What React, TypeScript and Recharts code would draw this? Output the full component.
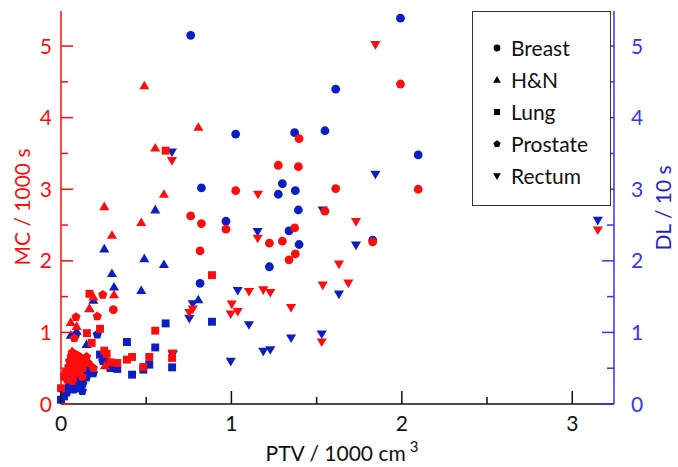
import React from "react";
import { ScatterChart, Scatter, XAxis, YAxis, Legend } from "recharts";

const FONT = "Lato, 'Open Sans', sans-serif";
const RED = "#ff0d0d";
const BLUE = "#0a1ec4";
const BLUE_AXIS = "#3535f5";

// PTV / 1000 cm3, MC / 1000 s, DL / 10 s  (null = not readable)
const breastPtv = [0.307, 0.761, 0.816, 0.824, 0.968, 1.025, 1.223, 1.275, 1.299, 1.338, 1.371, 1.375, 1.393, 1.397, 1.549, 1.612, 1.829, 1.992, 2.096];
const breastMc = [1.317, 2.628, 2.14, 2.52, 2.442, 2.98, 2.247, 3.335, 2.275, 2.014, 2.46, 2.098, 3.316, 3.706, 2.693, 3.01, 2.265, 4.47, 3.0];
const breastDl = [null, 5.15, 1.684, 3.018, 2.554, 3.771, 1.917, 2.93, 3.078, 2.418, 3.79, 2.98, 2.71, 2.228, 3.817, 4.4, 2.29, 5.39, 3.48];

const hnPtv = [0.057, 0.065, 0.092, 0.15, 0.167, 0.19, 0.254, 0.258, 0.299, 0.311, 0.471, 0.489, 0.553, 0.604, 0.806];
const hnMc = [1.14, 0.736, 1.084, null, 1.333, 1.496, 2.757, 0.536, 2.358, 1.526, 2.534, 4.445, 3.576, 2.93, 3.865];
const hnDl = [0.96, 0.7, 1.016, 0.83, 1.33, 1.449, 2.167, null, 1.823, 1.633, 1.586, 2.03, 2.711, 1.949, 1.456];

const lungPtv = [0.0, 0.018, 0.152, 0.167, 0.18, 0.229, 0.254, 0.268, 0.29, 0.33, 0.387, 0.417, 0.483, 0.518, 0.553, 0.614, 0.652, 0.886];
const lungMc = [0.22, 0.38, 0.99, 1.54, 0.853, 1.05, 0.745, 0.7, 0.582, 0.573, 0.62, 0.657, 0.517, 0.657, 1.024, 3.539, 0.643, 1.8];
const lungDl = [0.06, 0.107, 0.45, 0.517, 0.433, 0.69, 0.6, 0.582, 0.503, 0.49, 0.866, 0.41, 0.48, 0.55, 0.79, 1.126, 0.512, 1.149];

const prostatePtv = [0.088, 0.213, 0.245, 0.078, 0.03, 0.045, 0.05, 0.055, 0.06, 0.062, 0.066, 0.07, 0.072, 0.075, 0.078, 0.08, 0.083, 0.085, 0.088, 0.09, 0.094, 0.098, 0.1, 0.105, 0.11, 0.115, 0.12, 0.128, 0.16, 0.19, 0.035, 0.14, 0.15, 0.125, 0.068];
const prostateMc = [1.215, 1.224, 1.526, 0.92, 0.45, 0.52, 0.6, 0.45, 0.66, 0.55, 0.72, 0.48, 0.62, 0.4, 0.7, 0.56, 0.5, 0.64, 0.58, 0.44, 0.68, 0.52, 0.6, 0.47, 0.66, 0.55, 0.62, 0.5, 0.57, 0.5, 0.34, 0.6, 0.66, 0.38, 0.32];
const prostateDl = [0.97, 0.97, 0.6, 0.55, 0.2, 0.32, 0.25, 0.4, 0.3, 0.22, 0.36, 0.28, 0.45, 0.2, 0.33, 0.26, 0.38, 0.24, 0.3, 0.42, 0.27, 0.35, 0.22, 0.3, 0.4, 0.25, 0.33, 0.28, 0.48, 0.43, 0.16, 0.5, 0.37, 0.18, 0.52];

const rectumPtv = [0.651, 0.655, 0.753, 0.773, 0.996, 1.002, 1.037, 1.103, 1.154, 1.156, 1.187, 1.228, 1.35, 1.53, 1.536, 1.631, 1.686, 1.731, 1.845, 3.15];
const rectumMc = [3.4, 0.713, 1.279, 1.326, 1.257, 1.396, 1.293, 1.572, 2.316, 2.93, 1.595, 1.558, 1.349, 0.866, 1.661, 1.954, 1.689, 2.548, 5.02, 2.43];
const rectumDl = [3.52, 0.69, 1.195, 1.4, 0.596, null, 1.586, 1.107, 2.409, null, 0.735, 0.759, 0.922, 0.978, 2.71, 1.535, null, 2.22, 3.21, 2.565];

const groups = [
  { name: "Breast", kind: "circle", ptv: breastPtv, mc: breastMc, dl: breastDl },
  { name: "H&N", kind: "up", ptv: hnPtv, mc: hnMc, dl: hnDl },
  { name: "Lung", kind: "square", ptv: lungPtv, mc: lungMc, dl: lungDl },
  { name: "Prostate", kind: "pentagon", ptv: prostatePtv, mc: prostateMc, dl: prostateDl },
  { name: "Rectum", kind: "down", ptv: rectumPtv, mc: rectumMc, dl: rectumDl },
];

const xTicks = [0, 0.5, 1, 1.5, 2, 2.5, 3];
const yTicks = [0, 0.5, 1, 1.5, 2, 2.5, 3, 3.5, 4, 4.5, 5];

const toPoints = (ptv: number[], vals: (number | null)[]) =>
  ptv.map((x, i) => ({ x, y: vals[i] })).filter((p) => p.y != null);

function Marker({ cx, cy, kind, color, r = 4.4 }: any) {
  if (cx == null || cy == null) return null;
  if (kind === "circle") return <circle cx={cx} cy={cy} r={r} fill={color} />;
  if (kind === "square")
    return <rect x={cx - r * 0.9} y={cy - r * 0.9} width={r * 1.8} height={r * 1.8} fill={color} />;
  if (kind === "up")
    return <polygon points={`${cx},${cy - r * 1.15} ${cx + r * 1.15},${cy + r * 0.8} ${cx - r * 1.15},${cy + r * 0.8}`} fill={color} />;
  if (kind === "down")
    return <polygon points={`${cx},${cy + r * 1.15} ${cx + r * 1.15},${cy - r * 0.8} ${cx - r * 1.15},${cy - r * 0.8}`} fill={color} />;
  const pts = [0, 1, 2, 3, 4]
    .map((k) => {
      const a = -Math.PI / 2 + (k * 2 * Math.PI) / 5;
      return `${cx + r * 1.1 * Math.cos(a)},${cy + r * 1.1 * Math.sin(a)}`;
    })
    .join(" ");
  return <polygon points={pts} fill={color} />;
}

const BottomTick = ({ x, y, payload }: any) => {
  const major = Number.isInteger(payload.value);
  return (
    <g>
      <line x1={x} x2={x} y1={y} y2={y - (major ? 13 : 7)} stroke="#111" strokeWidth={1.5} />
      {major && (
        <text x={x} y={y + 27} textAnchor="middle" fontSize={21} fontFamily={FONT} fill="#111">
          {payload.value}
        </text>
      )}
    </g>
  );
};

const TopTick = ({ x, y, payload }: any) => {
  const major = Number.isInteger(payload.value);
  return <line x1={x} x2={x} y1={y} y2={y + (major ? 11 : 7)} stroke="#111" strokeWidth={1.5} />;
};

const LeftTick = ({ x, y, payload }: any) => {
  const major = Number.isInteger(payload.value);
  return (
    <g>
      <line x1={x} x2={x + (major ? 12 : 7)} y1={y} y2={y} stroke={RED} strokeWidth={1.5} />
      {major && (
        <text x={x - 9} y={y} dy="0.36em" textAnchor="end" fontSize={21} fontFamily={FONT} fill={RED}>
          {payload.value}
        </text>
      )}
    </g>
  );
};

const RightTick = ({ x, y, payload }: any) => {
  const major = Number.isInteger(payload.value);
  return (
    <g>
      <line x1={x} x2={x - (major ? 12 : 7)} y1={y} y2={y} stroke={BLUE_AXIS} strokeWidth={1.5} />
      {major && (
        <text x={x + 17} y={y} dy="0.36em" textAnchor="start" fontSize={21} fontFamily={FONT} fill={BLUE_AXIS}>
          {payload.value}
        </text>
      )}
    </g>
  );
};

const renderLegend = () => (
  <div
    style={{
      width: 139,
      height: 195,
      boxSizing: "border-box",
      border: "1.5px solid #333",
      background: "#fff",
      position: "relative",
    }}
  >
    <svg width={136} height={192} style={{ position: "absolute", left: 0, top: 0 }}>
      {groups.map((g, i) => (
        <g key={g.name}>
          <Marker cx={24} cy={36 + i * 32} kind={g.kind} color="#000" r={3.4} />
          <text x={38} y={36 + i * 32} dy="0.36em" fontSize={21} fontFamily={FONT} fill="#111">
            {g.name}
          </text>
        </g>
      ))}
    </svg>
  </div>
);

export default function App() {
  return (
    <div style={{ position: "absolute", left: 0, top: 0, background: "#fff" }}>
      <ScatterChart width={678} height={467} margin={{ top: 11, right: 0, bottom: 0, left: 0 }}>
        <XAxis
          type="number"
          dataKey="x"
          domain={[0, 3.245]}
          ticks={xTicks}
          interval={0}
          height={63}
          tickSize={0}
          tickMargin={0}
          tickLine={false}
          axisLine={{ stroke: "#111", strokeWidth: 1.5 }}
          tick={(p: any) => <BottomTick {...p} />}
          label={{
            content: () => (
              <text x={342} y={461} textAnchor="middle" fontSize={21} fontFamily={FONT} fill="#111">
                PTV / 1000 cm
                <tspan dx={4} dy={-9} fontSize={15}>3</tspan>
              </text>
            ),
          }}
        />
        <XAxis
          xAxisId="top"
          orientation="top"
          type="number"
          domain={[0, 3.245]}
          ticks={xTicks}
          interval={0}
          height={0}
          tickSize={0}
          tickMargin={0}
          tickLine={false}
          axisLine={{ stroke: "#111", strokeWidth: 1.5 }}
          tick={(p: any) => <TopTick {...p} />}
        />
        <YAxis
          yAxisId="left"
          type="number"
          dataKey="y"
          domain={[0, 5.49]}
          ticks={yTicks}
          interval={0}
          width={61}
          tickSize={0}
          tickMargin={0}
          tickLine={false}
          axisLine={{ stroke: RED, strokeWidth: 1.5 }}
          tick={(p: any) => <LeftTick {...p} />}
          label={{
            content: () => (
              <text x={22} y={207} transform="rotate(-90 22 207)" dy="0.36em" textAnchor="middle" fontSize={21} fontFamily={FONT} fill={RED}>
                MC / 1000 s
              </text>
            ),
          }}
        />
        <YAxis
          yAxisId="right"
          orientation="right"
          type="number"
          dataKey="y"
          domain={[0, 5.49]}
          ticks={yTicks}
          interval={0}
          width={64}
          tickSize={0}
          tickMargin={0}
          tickLine={false}
          axisLine={{ stroke: BLUE_AXIS, strokeWidth: 1.5 }}
          tick={(p: any) => <RightTick {...p} />}
          label={{
            content: () => (
              <text x={663} y={208} transform="rotate(-90 663 208)" dy="0.36em" textAnchor="middle" fontSize={21} fontFamily={FONT} fill="#1f1fd0">
                DL / 10 s
              </text>
            ),
          }}
        />
        {groups.map((g) => (
          <Scatter
            key={"dl" + g.name}
            yAxisId="right"
            data={toPoints(g.ptv, g.dl)}
            isAnimationActive={false}
            shape={(p: any) => <Marker cx={p.cx} cy={p.cy} kind={g.kind} color={BLUE} />}
          />
        ))}
        {groups.map((g) => (
          <Scatter
            key={"mc" + g.name}
            yAxisId="left"
            data={toPoints(g.ptv, g.mc)}
            isAnimationActive={false}
            shape={(p: any) => <Marker cx={p.cx} cy={p.cy} kind={g.kind} color={RED} />}
          />
        ))}
        <Legend
          layout="horizontal"
          verticalAlign="middle"
          content={renderLegend}
          wrapperStyle={{ left: 472, top: 11, width: 139, height: 195 }}
        />
      </ScatterChart>
    </div>
  );
}
